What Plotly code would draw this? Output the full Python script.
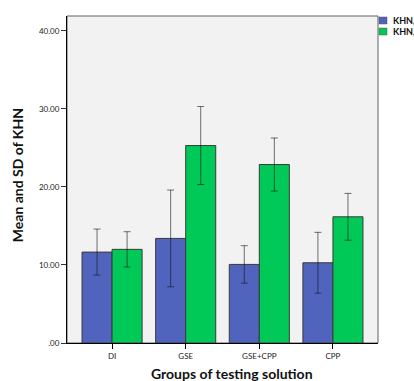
import plotly.graph_objects as go

categories = ["DI", "GSE", "GSE+CPP", "CPP"]
series_names = ["KHN,", "KHN,"]
before_mean = [11.65, 13.4, 10.07, 10.28]
before_sd = [2.95, 6.2, 2.4, 3.9]
after_mean = [12.0, 25.3, 22.87, 16.17]
after_sd = [2.26, 5.0, 3.4, 3.0]
y_tickvals = [0, 10, 20, 30, 40]
y_ticktext = [".00", "10.00", "20.00", "30.00", "40.00"]

colors = ["#5064BD", "#00C957"]

W, H = 414, 381
L, R, T, B = 67, 36, 16, 38

fig = go.Figure()
for name, m, s, c in [(series_names[0], before_mean, before_sd, colors[0]),
                      (series_names[1], after_mean, after_sd, colors[1])]:
    fig.add_trace(go.Bar(
        x=categories, y=m, name=name,
        marker=dict(color=c, line=dict(color="#3a3a3a", width=1)),
        error_y=dict(type="data", array=s, visible=True,
                     color="rgba(20,20,20,0.6)", thickness=1, width=3.5),
        showlegend=False,
    ))

pw = W - L - R
ph = H - T - B
def px(x):
    return (x - L) / pw
def py(y):
    return (H - B - y) / ph

shapes = [dict(type="rect", xref="paper", yref="paper", x0=0, x1=1, y0=0, y1=1,
               line=dict(color="#606060", width=1), layer="below")]
annotations = []
for i, (name, c) in enumerate(zip(series_names, colors)):
    y0 = 17 + i * 11
    shapes.append(dict(type="rect", xref="paper", yref="paper",
                       x0=px(379), x1=px(387), y0=py(y0 + 7), y1=py(y0),
                       fillcolor=c, line=dict(color="#555", width=0.5)))
    annotations.append(dict(xref="paper", yref="paper", x=px(391), y=py(y0 + 3.5),
                            xanchor="left", yanchor="middle", showarrow=False,
                            text="<b>" + name + "</b>",
                            font=dict(family="Lato", size=9, color="#111")))

annotations.append(dict(xref="paper", yref="paper", x=px(231.7), y=py(373.5),
                        xanchor="center", yanchor="middle", showarrow=False,
                        text="<b>Groups of testing solution</b>",
                        font=dict(family="Lato", size=14, color="#111")))
annotations.append(dict(xref="paper", yref="paper", x=px(17.7), y=py(175.5),
                        xanchor="center", yanchor="middle", showarrow=False,
                        textangle=-90,
                        text="<b>Mean and SD of KHN</b>",
                        font=dict(family="Lato", size=14, color="#111")))

fig.update_layout(
    width=W, height=H,
    margin=dict(l=L, r=R, t=T, b=B, pad=0),
    paper_bgcolor="white", plot_bgcolor="#F2F2F2",
    barmode="group", bargap=0.184, bargroupgap=0,
    shapes=shapes, annotations=annotations,
    font=dict(family="Lato", size=8, color="#222"),
)
fig.update_xaxes(
    type="category", range=[-0.612, 3.612],
    showline=True, linecolor="black", linewidth=1,
    ticks="outside", ticklen=5, tickcolor="black", tickwidth=1,
    tickfont=dict(family="Lato", size=8, color="#222"),
    showgrid=False, zeroline=False,
)
fig.update_yaxes(
    range=[0, 41.9], tickvals=y_tickvals, ticktext=y_ticktext,
    showline=True, linecolor="black", linewidth=1,
    ticks="outside", ticklen=5, tickcolor="#333", tickwidth=1,
    tickfont=dict(family="Lato", size=8, color="#222"),
    showgrid=False, zeroline=False,
)

fig.write_html("out.html", config={"displayModeBar": False},
               post_script="document.body.style.margin='0';document.body.style.overflow='hidden';")
